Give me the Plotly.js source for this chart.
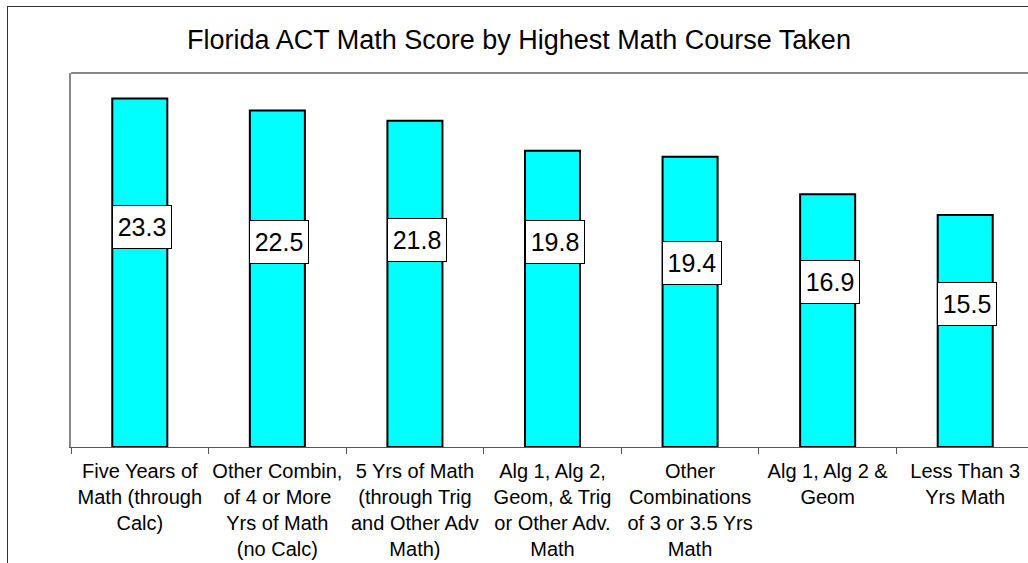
<!DOCTYPE html>
<html>
<head>
<meta charset="utf-8">
<script src="https://cdn.plot.ly/plotly-3.0.1.min.js"></script>
<style>
  html, body { margin: 0; padding: 0; background: #fff; overflow: hidden; width: 1028px; height: 563px; }
  #frame { position: absolute; left: 7px; top: 6px; width: 1100px; height: 700px; border: 1px solid #333; pointer-events: none; z-index: 5; }
  #chart { position: absolute; left: 0; top: 0; }
</style>
</head>
<body>
<div id="chart"></div>
<div id="frame"></div>
<script>
// ---- Data ----
const categories = ["Five Years of Math (through Calc)", "Other Combin, of 4 or More Yrs of Math (no Calc)",
  "5 Yrs of Math (through Trig and Other Adv Math)", "Alg 1, Alg 2, Geom, & Trig or Other Adv. Math",
  "Other Combinations of 3 or 3.5 Yrs Math", "Alg 1, Alg 2 & Geom", "Less Than 3 Yrs Math"];
const scores = [23.3, 22.5, 21.8, 19.8, 19.4, 16.9, 15.5];
const tickLabels = [
  "Five Years of<br>Math (through<br>Calc)",
  "Other Combin,<br>of 4 or More<br>Yrs of Math<br>(no Calc)",
  "5 Yrs of Math<br>(through Trig<br>and Other Adv<br>Math)",
  "Alg 1, Alg 2,<br>Geom, & Trig<br>or Other Adv.<br>Math",
  "Other<br>Combinations<br>of 3 or 3.5 Yrs<br>Math",
  "Alg 1, Alg 2 &<br>Geom",
  "Less Than 3<br>Yrs Math"
];
const chartTitle = "Florida ACT Math Score by Highest Math Course Taken";

// ---- Layout tweaks: label box height as a fraction of bar height ----
const labelFrac = [0.631, 0.610, 0.635, 0.693, 0.634, 0.654, 0.618];

const FONT = '"Liberation Sans", Arial, sans-serif';

const trace = {
  type: 'bar',
  x: categories,
  y: scores,
  marker: { color: '#00FFFF', line: { color: '#000', width: 2 } },
  hoverinfo: 'none'
};

const annotations = categories.map((c, i) => ({
  x: c, y: scores[i] * labelFrac[i], xref: 'x', yref: 'y',
  text: scores[i].toFixed(1), showarrow: false,
  font: { family: FONT, size: 25, color: '#000' },
  width: 50, height: 34, align: 'center', valign: 'middle',
  bgcolor: '#fff', bordercolor: '#000', borderwidth: 1, borderpad: 4,
  xshift: 2
}));

const layout = {
  width: 1100, height: 563,
  margin: { l: 71, r: 66, t: 73, b: 116, autoexpand: false },
  paper_bgcolor: '#fff', plot_bgcolor: '#fff',
  font: { family: FONT, color: '#000' },
  title: { text: chartTitle, font: { family: FONT, size: 27, color: '#000' },
           xref: 'container', x: 519 / 1100, xanchor: 'center',
           yref: 'container', y: 1 - 40 / 563, yanchor: 'middle' },
  bargap: 0.6,
  showlegend: false,
  xaxis: {
    type: 'category', tickvals: categories, ticktext: tickLabels,
    showgrid: false, zeroline: false,
    showline: true, linecolor: '#555', linewidth: 1,
    ticks: 'outside', tickson: 'boundaries', ticklen: 6, tickcolor: '#555', tickwidth: 1,
    ticklabelstandoff: 6,
    tickfont: { family: FONT, size: 20, color: '#000' },
    tickangle: 0, automargin: false, fixedrange: true
  },
  yaxis: {
    range: [0, 25], showgrid: false, zeroline: false,
    showticklabels: false, ticks: '',
    showline: true, linecolor: '#888', linewidth: 2, fixedrange: true
  },
  shapes: [
    { type: 'line', xref: 'paper', yref: 'paper', x0: 0, x1: 1, y0: 1, y1: 1,
      line: { color: '#888', width: 2 } }
  ],
  annotations: annotations
};

Plotly.newPlot('chart', [trace], layout, { displayModeBar: false, staticPlot: true });
</script>
</body>
</html>
